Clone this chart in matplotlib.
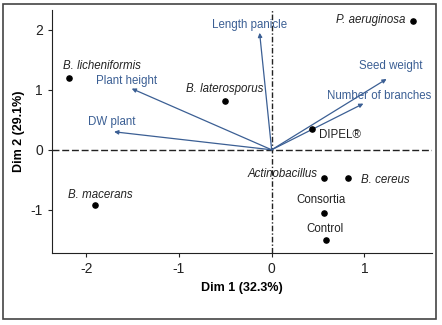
import matplotlib.pyplot as plt
from matplotlib.patches import Rectangle

# treatments (individuals) on the first two dimensions
names = ['B. licheniformis', 'B. laterosporus', 'P. aeruginosa', 'DIPEL\u00ae',
         'Actinobacillus', 'B. cereus', 'Consortia', 'Control', 'B. macerans']
dim1 = [-2.19, -0.50, 1.53, 0.44, 0.57, 0.82, 0.57, 0.59, -1.91]
dim2 = [1.20, 0.82, 2.15, 0.35, -0.47, -0.47, -1.05, -1.50, -0.92]
italic = [True, True, True, False, True, True, False, False, True]

# variables (arrows)
vars_ = ['Length panicle', 'Plant height', 'DW plant', 'Seed weight', 'Number of branches']
var1 = [-0.13, -1.51, -1.70, 1.24, 0.99]
var2 = [1.95, 1.02, 0.30, 1.18, 0.77]

plt.rcParams['font.family'] = ['Liberation Sans', 'DejaVu Sans']
plt.rcParams['axes.unicode_minus'] = False

blue = '#3b5f94'

fig = plt.figure(figsize=(4.42, 3.25), dpi=100)
ax = fig.add_axes([52/442, 1-253/325, 380/442, 243/325])
ax.set_xlim(-2.37, 1.73)
ax.set_ylim(-1.72, 2.33)

ax.axhline(0, color='#222222', lw=1.0, ls=(0, (5, 2)), zorder=1)
ax.axvline(0, color='#222222', lw=1.0, ls=(0, (4, 1.5, 1, 1.5)), zorder=1)

for v, x, y in zip(vars_, var1, var2):
    ax.annotate('', xy=(x, y), xytext=(0, 0),
                arrowprops=dict(arrowstyle='-|>', color=blue, lw=0.9,
                                mutation_scale=6, shrinkA=0, shrinkB=0))

ax.scatter(dim1, dim2, s=14, color='black', zorder=3)

# labels for the individuals
pt_lab = {
    'B. licheniformis': (-2.25, 1.40, 'left'),
    'B. laterosporus': (-0.92, 1.02, 'left'),
    'P. aeruginosa': (1.44, 2.17, 'right'),
    'DIPEL\u00ae': (0.51, 0.25, 'left'),
    'Actinobacillus': (0.50, -0.40, 'right'),
    'B. cereus': (0.96, -0.50, 'left'),
    'Consortia': (0.53, -0.83, 'center'),
    'Control': (0.58, -1.32, 'center'),
    'B. macerans': (-1.85, -0.75, 'center'),
}
for n, it in zip(names, italic):
    x, y, ha = pt_lab[n]
    ax.text(x, y, n, ha=ha, va='center', fontsize=8.3, color='#222222',
            style='italic' if it else 'normal')

var_lab = {
    'Length panicle': (-0.24, 2.08),
    'Plant height': (-1.57, 1.15),
    'DW plant': (-1.72, 0.47),
    'Seed weight': (1.28, 1.40),
    'Number of branches': (1.16, 0.90),
}
for v in vars_:
    x, y = var_lab[v]
    ax.text(x, y, v, ha='center', va='center', fontsize=8.3, color=blue)

ax.spines['top'].set_visible(False)
ax.spines['right'].set_visible(False)
ax.spines['left'].set_color('#222222')
ax.spines['bottom'].set_color('#222222')
ax.set_xticks([-2, -1, 0, 1])
ax.set_yticks([-1, 0, 1, 2])
ax.tick_params(direction='out', length=3, labelsize=10, colors='#222222')
ax.set_xlabel('Dim 1 (32.3%)', fontsize=9, fontweight='bold', labelpad=4)
ax.set_ylabel('Dim 2 (29.1%)', fontsize=9, fontweight='bold', labelpad=4)

fig.patches.append(Rectangle((3/442, 6/325), 433/442, 315/325, transform=fig.transFigure,
                             fill=False, ec='#444444', lw=1.2))

fig.savefig('out.png', dpi=100)
